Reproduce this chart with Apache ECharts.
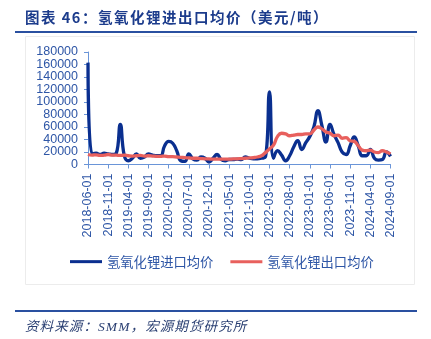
<!DOCTYPE html>
<html>
<head>
<meta charset="utf-8">
<script src="https://cdn.jsdelivr.net/npm/echarts@6/dist/echarts.min.js"></script>
<style>
  html, body { margin: 0; padding: 0; background: #ffffff; }
  #wrap { position: relative; width: 431px; height: 339px; overflow: hidden; }
  #chart { position: absolute; left: 0; top: 0; width: 431px; height: 339px; }
  .title {
    position: absolute; left: 25px; top: 6px;
    font-family: "Noto Sans CJK SC", sans-serif; font-weight: bold;
    font-size: 14.5px; letter-spacing: 1.5px; color: #1c3c8c; white-space: nowrap;
  }
  .source {
    position: absolute; left: 25px; top: 315px;
    font-family: "Liberation Serif", "Noto Sans CJK SC", serif; font-style: italic;
    font-size: 13.5px; letter-spacing: 1.1px; color: #2a3f72; white-space: nowrap;
  }
  .rule { position: absolute; left: 15px; width: 402px; height: 2px; background: #2a50a0; }
</style>
</head>
<body>
<div id="wrap">
  <div id="chart"></div>
  <div class="title">图表 46：氢氧化锂进出口均价（美元/吨）</div>
  <div class="rule" style="top:31px"></div>
  <div class="rule" style="top:310px"></div>
  <div class="source">资料来源：SMM，宏源期货研究所</div>
</div>
<script>
// Monthly dates, 2018-06 through 2024-09
const startYear = 2018, startMonth = 6, monthCount = 76;
const months = [];
for (let k = 0; k < monthCount; k++) {
  const m = startMonth - 1 + k;
  const y = startYear + Math.floor(m / 12);
  const mm = (m % 12) + 1;
  months.push(y + '-' + String(mm).padStart(2, '0') + '-01');
}

// Value-axis tick labels
const yTicks = [0, 20000, 40000, 60000, 80000, 100000, 120000, 140000, 160000, 180000];

const seriesNames = ['氢氧化锂进口均价', '氢氧化锂出口均价'];

// Import average price, USD/t
const importPrice = [
  163000, 17000, 18000, 16000, 18000, 17000, 16000, 18000, 64000, 14000,
  6000, 10000, 17000, 10000, 12000, 17000, 15000, 14000, 14000, 30000,
  37000, 34000, 22000, 6000, 5000, 17000, 9000, 7000, 12000, 10000,
  4000, 10000, 16000, 8000, 6000, 8000, 8000, 8500, 8000, 12000,
  10000, 9000, 9000, 10000, 12000, 116000, 10000, 22000, 15000, 6000,
  14000, 28000, 38000, 24000, 35000, 45000, 60000, 86000, 62000, 36000,
  64000, 48000, 35000, 20000, 16000, 30000, 44000, 30000, 14000, 14000,
  24000, 10000, 7000, 8000, 20000, 13000
];

// Export average price, USD/t
const exportPrice = [
  16000, 15000, 15500, 14500, 15000, 16000, 15000, 15000, 14500, 15000,
  14000, 13500, 14000, 14500, 13500, 14000, 13500, 13000, 13000, 13500,
  12500, 12500, 12000, 11500, 11000, 10500, 10000, 10000, 9500, 9000,
  9000, 8500, 8500, 8500, 8500, 8500, 9000, 9000, 9500, 10000,
  10500, 11000, 12000, 14000, 19000, 25000, 31000, 45000, 50000, 49000,
  46000, 47000, 48000, 48000, 49000, 49000, 55000, 60000, 57000, 52000,
  50000, 46000, 47000, 42000, 43000, 38000, 37000, 30000, 23000, 22000,
  23000, 20000, 19000, 22000, 20000, 17000
];

const colors = ['#0a2f8f', '#e8605d'];
const axisBlue = '#6a95d8';
const labelBlue = '#2e56a6';

const chart = echarts.init(document.getElementById('chart'), null, { renderer: 'canvas' });
chart.setOption({
  animation: false,
  color: colors,
  grid: { left: 88, right: 40.5, top: 52, bottom: 174.5 },
  legend: {
    left: 70, top: 255, padding: 0,
    itemWidth: 32, itemHeight: 3, itemGap: 17,
    icon: 'rect',
    textStyle: { fontFamily: 'Noto Sans CJK SC', fontSize: 13.3, color: labelBlue },
    data: seriesNames
  },
  xAxis: {
    type: 'category',
    boundaryGap: false,
    data: months,
    axisLine: { lineStyle: { color: axisBlue, width: 1 } },
    axisTick: { interval: 4, length: 4, lineStyle: { color: axisBlue } },
    axisLabel: {
      interval: 4, rotate: 90, margin: 9,
      fontFamily: 'Liberation Sans', fontSize: 12.5, color: labelBlue
    },
    splitLine: { show: false }
  },
  yAxis: {
    type: 'value',
    min: yTicks[0], max: yTicks[yTicks.length - 1], interval: yTicks[1] - yTicks[0],
    axisLine: { show: true, lineStyle: { color: axisBlue, width: 1 } },
    axisTick: { show: true, length: 4, lineStyle: { color: axisBlue } },
    // tick labels are placed below from the axis scale, so none get dropped when tightly packed
    axisLabel: { show: false },
    splitLine: { show: false }
  },
  series: [
    {
      name: seriesNames[0], type: 'line', data: importPrice,
      smooth: 0.5, showSymbol: false, z: 2,
      lineStyle: { width: 3.3, color: colors[0] }
    },
    {
      name: seriesNames[1], type: 'line', data: exportPrice,
      smooth: 0.5, showSymbol: false, z: 3,
      lineStyle: { width: 3.3, color: colors[1] }
    }
  ]
});

// Value-axis labels, positioned through the y axis scale
const xAxisLeft = chart.convertToPixel({ xAxisIndex: 0 }, months[0]);
const tickLabels = yTicks.map(function (v) {
  return {
    type: 'text',
    x: xAxisLeft - 10,
    y: chart.convertToPixel({ yAxisIndex: 0 }, v),
    style: {
      text: String(v),
      align: 'right', verticalAlign: 'middle',
      fontFamily: 'Liberation Sans', fontSize: 12.5, fill: labelBlue
    }
  };
});
chart.setOption({
  graphic: [{
    type: 'rect', left: 23, top: 34, z: -1,
    shape: { width: 389, height: 248 },
    style: { fill: 'none', stroke: '#ececec', lineWidth: 1 }
  }].concat(tickLabels)
});
</script>
</body>
</html>
